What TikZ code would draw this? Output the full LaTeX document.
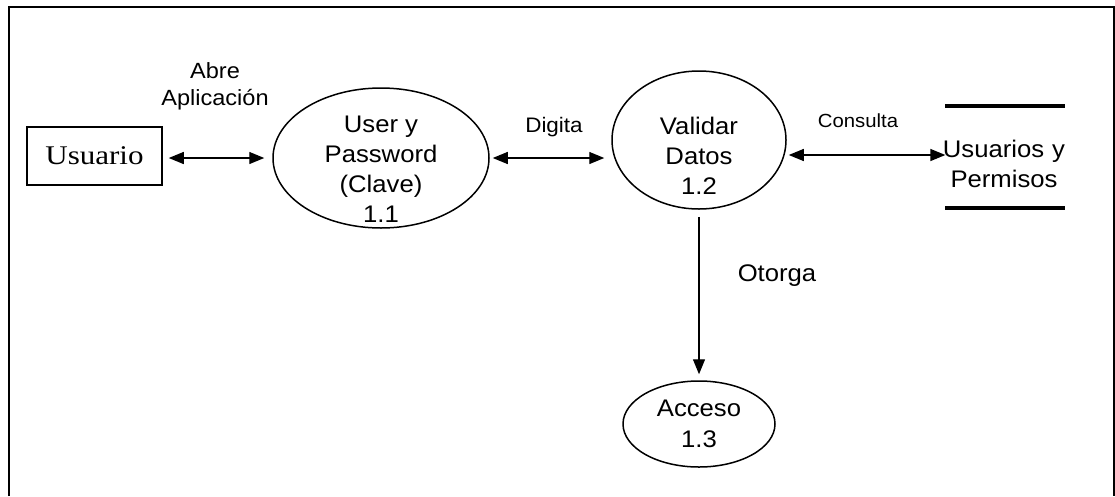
\documentclass[tikz,border=0pt]{standalone}
\usepackage{fontspec}
\setmainfont{Liberation Sans}[FakeStretch=1.07]
\newfontfamily\timesf{Liberation Serif}[FakeStretch=1.15]
\usetikzlibrary{shapes.geometric,arrows.meta}
\newcommand\procf{\fontsize{24}{30}\selectfont}
\newcommand\labf[1]{\fontsize{#1}{27}\selectfont}

\begin{document}
\begin{tikzpicture}[x=1pt,y=-1pt,line width=1.3pt,>={Triangle[length=15pt,width=12pt]},
  proc/.style={draw,ellipse,line width=1.5pt,inner sep=0pt},
  ptext/.style={align=center,inner sep=0pt,font=\procf},
  lab/.style={align=center,inner sep=0pt}]
\useasboundingbox (0,0) rectangle (1115,496);
\draw[line width=1.8pt] (9,496) -- (9,7) -- (1114,7) -- (1114,496);
% entidad externa y almacen
\node[draw,line width=1.5pt,minimum width=135pt,minimum height=58pt,inner sep=0pt,font=\timesf\fontsize{27}{30}\selectfont] (user) at (94.5,156) {Usuario};
\node[minimum width=118pt,minimum height=100pt,inner sep=0pt] (store) at (1005,157) {};
\node[ptext,text width=130pt,align=center] (storet) at (1004,164) {\fontsize{24}{26}\selectfont Usuarios y\\Permisos};
\draw[line width=4pt] (store.north west) -- (store.north east) (store.south west) -- (store.south east);
% procesos
\node[proc,minimum width=216pt,minimum height=140pt] (p1) at (381,158) {};
\node[ptext] (p1t) at (381,169) {User y\\Password\\(Clave)\\1.1};
\node[proc,minimum width=174pt,minimum height=138pt] (p2) at (699,140) {};
\node[ptext] (p2t) at (699,156) {Validar\\Datos\\1.2};
\node[proc,minimum width=152pt,minimum height=86pt,font=\fontsize{24}{31}\selectfont,align=center] (p3) at (699,424) {Acceso\\1.3};
% flujos
\draw[<->,shorten <=6pt,shorten >=8pt] (user.east |- p1.west) -- (p1.west);
\draw[<->,shorten <=3pt,shorten >=7pt] (p1.east) -- (p1.east -| p2.west);
\draw[<->,shorten >=2pt] (store.west |- 0,155) -- (p2.east |- 0,155);
\draw[->,shorten <=7pt,shorten >=6pt] (p2.south -| p3.north) -- (p3.north);
\node[lab,font=\labf{22}] (abre) at (215,86) {Abre\\Aplicación};
\node[lab,font=\labf{21}] (digita) at (554,127) {Digita};
\node[lab,font=\labf{19}] (consulta) at (858,121) {Consulta};
\node[lab,font=\labf{24}] (otorga) at (777,276) {Otorga};
\end{tikzpicture}
\end{document}
